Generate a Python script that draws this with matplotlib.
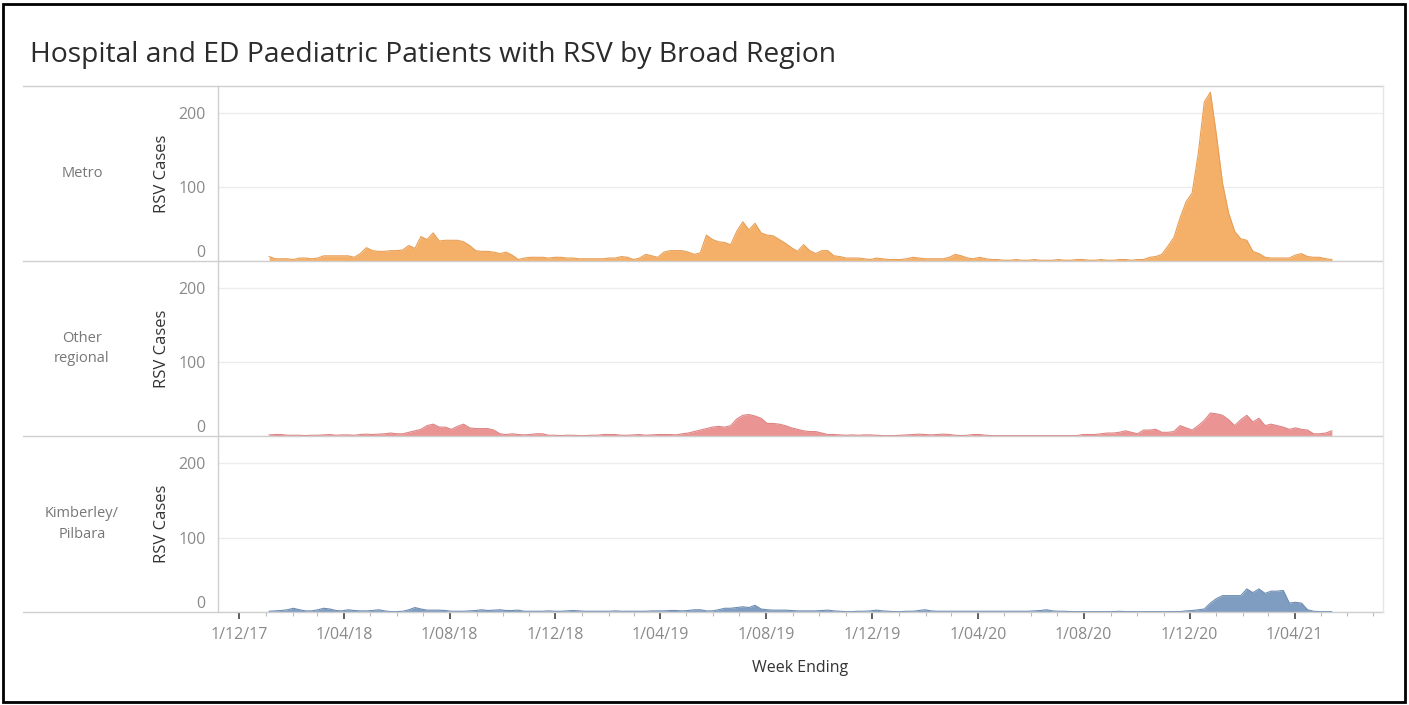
import numpy as np
import pandas as pd
import matplotlib
matplotlib.use('Agg')
import matplotlib.pyplot as plt
import matplotlib.dates as mdates
from matplotlib.ticker import FuncFormatter
from matplotlib.lines import Line2D
from matplotlib.patches import Rectangle

plt.rcParams['font.family'] = ['Open Sans', 'DejaVu Sans']

# weekly values, week ending from 5 Jan 2018
first_week = '2018-01-05'

metro = [6, 3, 3, 3, 2, 4, 4, 3, 4, 7,
         7, 7, 7, 7, 5, 10, 18, 14, 13, 13,
         14, 14, 15, 21, 17, 33, 29, 38, 27, 28,
         28, 28, 26, 21, 14, 13, 13, 12, 10, 12,
         8, 2, 4, 5, 5, 5, 4, 5, 5, 4,
         4, 3, 3, 3, 3, 3, 4, 4, 6, 5,
         2, 4, 9, 7, 5, 12, 14, 14, 14, 12,
         9, 11, 35, 29, 26, 25, 22, 40, 53, 42,
         51, 38, 35, 34, 29, 24, 18, 13, 22, 14,
         10, 14, 14, 7, 6, 4, 4, 4, 3, 2,
         4, 3, 2, 2, 2, 3, 5, 4, 3, 3,
         3, 3, 5, 9, 7, 4, 3, 5, 3, 2,
         2, 1, 1, 2, 1, 1, 2, 1, 1, 1,
         2, 1, 1, 2, 2, 1, 1, 2, 1, 1,
         2, 2, 1, 2, 2, 5, 6, 9, 20, 32,
         58, 80, 92, 145, 215, 228, 170, 105, 65, 40,
         30, 28, 13, 10, 5, 4, 4, 4, 4, 8,
         10, 6, 5, 5, 3, 2]

other_regional = [1.5, 2, 2, 1, 1, 1, 0.5, 1, 1, 1.5,
                  2, 1, 1.5, 1.5, 1, 2, 2.5, 2, 2.5, 3,
                  4, 3, 3, 5, 7, 9, 14, 16, 12, 12,
                  9, 13, 16, 11, 10, 10, 10, 8, 3, 2,
                  3, 2, 1.5, 2, 3, 3, 1, 1, 0.5, 1,
                  1, 0.5, 0.5, 1, 1, 2, 2, 2, 1, 1,
                  1.5, 2, 1, 1.5, 2, 2, 2, 1.5, 3, 4,
                  6, 8, 10, 12, 13, 12, 14, 23, 28, 29,
                  27, 24, 17, 17, 16, 14, 11, 9, 7, 6,
                  6, 4, 2, 2, 1.5, 1, 1.5, 1, 1.5, 1.5,
                  1, 0.5, 0.5, 0.5, 1, 1.5, 2, 2.5, 2, 1.5,
                  2, 2.5, 2, 1, 0.5, 1, 2, 2, 1, 0.5,
                  0.5, 0.5, 0.5, 0.5, 0.5, 0.5, 0.5, 0.5, 0.5, 0.5,
                  0.5, 0.5, 0.5, 0.5, 2, 2, 2, 3, 4, 4,
                  5, 7, 5, 3, 8, 8, 9, 5, 5, 6,
                  14, 11, 8, 14, 21, 31, 30, 28, 22, 14,
                  22, 28, 19, 24, 14, 16, 14, 12, 9, 11,
                  9, 8, 3, 3, 4, 7]

kimberley_pilbara = [1, 1.5, 2, 3, 5, 3, 1.5, 1.5, 3, 5,
                     4, 2, 1.5, 3, 2, 1.5, 1.5, 2, 3, 1.5,
                     0.5, 0.5, 1, 3, 6, 4, 2.5, 2.5, 2.5, 2,
                     1, 1, 1, 1.5, 2, 3, 2, 2.5, 3, 2,
                     2, 2.5, 1, 1, 1, 1, 1.5, 1, 1, 1.5,
                     2, 1.5, 1, 1, 1, 1, 1, 1.5, 1, 1,
                     1, 1, 1, 1.5, 1.5, 1.5, 2, 2, 1.5, 2,
                     3, 3, 1.5, 1.5, 3, 5, 5, 6, 7, 6,
                     9, 4, 3, 2.5, 2.5, 2.5, 2, 1.5, 1.5, 1.5,
                     1.5, 2, 2.5, 1.5, 1, 0.5, 0.5, 1, 1, 1.5,
                     2.5, 1.5, 1, 0.5, 0.5, 1, 1, 2, 3, 1.5,
                     1, 1, 1, 1, 1, 1, 1, 1, 1, 1,
                     1, 1, 1, 1, 1, 1, 1.5, 2, 3, 1.5,
                     1, 1, 0.5, 0.5, 0.5, 0.5, 0.5, 0.5, 0.5, 0.5,
                     1, 0.5, 0.5, 0.5, 0.5, 0.5, 0.5, 0.5, 0.5, 0.5,
                     0.5, 1.5, 2, 3, 4, 12, 18, 22, 22, 22,
                     22, 31, 26, 31, 25, 28, 28, 29, 12, 13,
                     12, 3, 1, 0.5, 0.5, 0.5]

regions = ['Metro', 'Other\nregional', 'Kimberley/\nPilbara']
series = [metro, other_regional, kimberley_pilbara]
fills = ['#F4B068', '#EA9494', '#7F9DC1']
edges = ['#E89E55', '#DE8484', '#6F8DB2']
y_ticks = [0, 100, 200]

weeks = pd.date_range(first_week, periods=len(metro), freq='7D')

W, H = 1409, 705
fig = plt.figure(figsize=(W / 100, H / 100), dpi=100)

left, right = 218, 1383
rows = [(86, 261), (261, 436), (436, 612)]
x_min, x_max = pd.Timestamp('2017-11-07'), pd.Timestamp('2021-07-12')

major = pd.date_range('2017-12-01', '2021-04-01', freq='4MS')
minor = pd.date_range('2017-12-01', '2021-07-01', freq='MS')


def fmt_date(x, pos):
    d = mdates.num2date(x)
    return f"{d.day}/{d.month:02d}/{d.year % 100:02d}"


axes = []
for k, (top, bot) in enumerate(rows):
    ax = fig.add_axes([left / W, 1 - bot / H, (right - left) / W, (bot - top) / H])
    axes.append(ax)
    vals = np.array(series[k], dtype=float)
    ax.fill_between(weeks, 0, vals, color=fills[k], lw=0, zorder=2)
    ax.plot(weeks, vals, color=edges[k], lw=0.8, zorder=3)
    ax.set_xlim(x_min, x_max)
    ax.set_ylim(0, 236.5)
    ax.set_yticks(y_ticks)
    labs = ax.set_yticklabels([str(v) for v in y_ticks])
    labs[0].set_verticalalignment('bottom')
    ax.tick_params(axis='y', length=0, pad=9, labelsize=11.5, labelcolor='#8a8a8a')
    ax.grid(axis='y', color='#ececec', lw=1, zorder=0)
    for s in ax.spines.values():
        s.set_visible(False)
    ax.set_ylabel('RSV Cases', fontsize=12, color='#333333')
    ax.yaxis.set_label_coords(-0.041, 0.5)
    fig.text(82 / W, 1 - (top + bot) / 2 / H, regions[k], ha='center', va='center',
             fontsize=10.5, color='#777777', linespacing=1.5)
    if k < 2:
        ax.set_xticks([])
    else:
        ax.set_xticks(major)
        ax.set_xticks(minor, minor=True)
        ax.xaxis.set_major_formatter(FuncFormatter(fmt_date))
        ax.tick_params(axis='x', which='major', length=5, width=1.2, color='#444444',
                       labelsize=11.5, labelcolor='#8a8a8a', pad=6)
        ax.tick_params(axis='x', which='minor', length=3, width=0.8, color='#bbbbbb')
        ax.set_xlabel('Week Ending', fontsize=11.5, color='#333333', labelpad=12)

# row separators and pane edges
for y in [86, 261, 436, 612]:
    fig.add_artist(Line2D([23 / W, right / W], [1 - y / H, 1 - y / H], color='#cfcfcf', lw=1))
fig.add_artist(Line2D([left / W, left / W], [1 - 86 / H, 1 - 612 / H], color='#cfcfcf', lw=1))
fig.add_artist(Line2D([right / W, right / W], [1 - 86 / H, 1 - 612 / H], color='#e6e6e6', lw=1))

fig.text(30 / W, 1 - 55 / H, 'Hospital and ED Paediatric Patients with RSV by Broad Region',
         ha='left', va='center', fontsize=20.3, color='#2b2b2b', fontweight='medium')

fig.add_artist(Rectangle((3 / W, 3 / H), (W - 7) / W, (H - 7) / H, transform=fig.transFigure,
                         fill=False, edgecolor='black', lw=2))

fig.savefig('out.png', dpi=100)
